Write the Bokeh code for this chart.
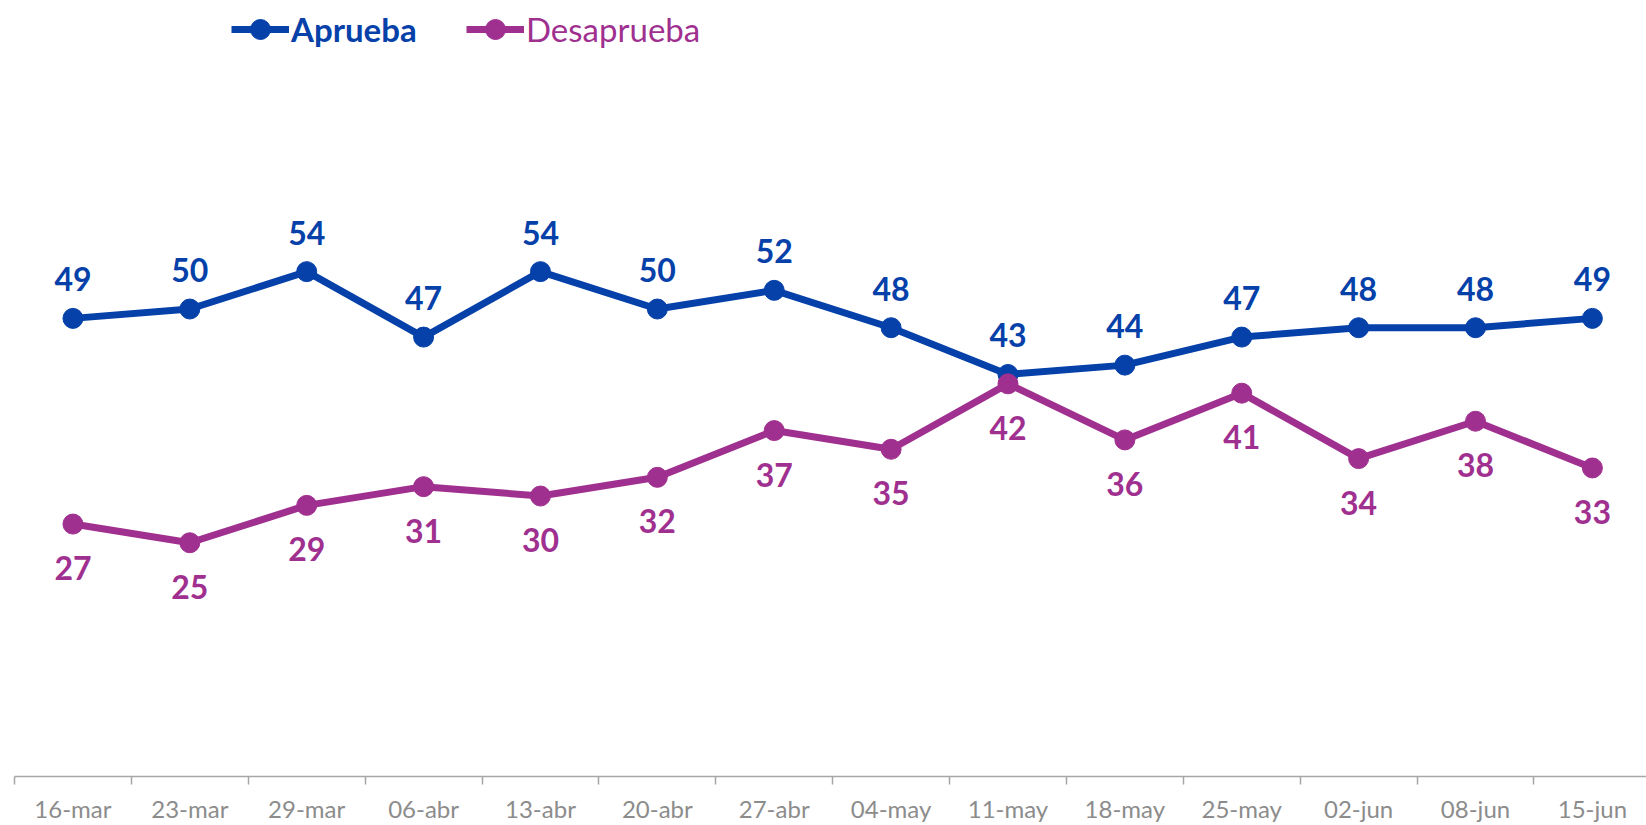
from bokeh.plotting import figure
from bokeh.models import ColumnDataSource, FixedTicker, Legend, LegendItem, Range1d
from bokeh.core.properties import value
from bokeh.embed import file_html
from bokeh.resources import INLINE

categories = ["16-mar", "23-mar", "29-mar", "06-abr", "13-abr", "20-abr", "27-abr",
              "04-may", "11-may", "18-may", "25-may", "02-jun", "08-jun", "15-jun"]
aprueba = [49, 50, 54, 47, 54, 50, 52, 48, 43, 44, 47, 48, 48, 49]
desaprueba = [27, 25, 29, 31, 30, 32, 37, 35, 42, 36, 41, 34, 38, 33]

BLUE = "#0541A9"
PURPLE = "#A0308F"
FONT = "Lato"

xs = list(range(len(categories)))
src = ColumnDataSource(dict(
    x=xs, a=aprueba, d=desaprueba,
    at=[str(v) for v in aprueba], dt=[str(v) for v in desaprueba],
))

p = figure(width=1646, height=825, output_backend="svg", toolbar_location=None,
           x_range=Range1d(-0.5, 13.463), y_range=Range1d(0, 83.0),
           min_border_left=14, min_border_right=0, min_border_top=0, min_border_bottom=0)
p.outline_line_color = None
p.grid.visible = False
p.yaxis.visible = False

la = p.line("x", "a", source=src, line_color=BLUE, line_width=7)
sa = p.scatter("x", "a", source=src, size=20, fill_color=BLUE, line_color=BLUE)
ld = p.line("x", "d", source=src, line_color=PURPLE, line_width=7)
sd = p.scatter("x", "d", source=src, size=20, fill_color=PURPLE, line_color=PURPLE)

p.text("x", "a", text="at", source=src, text_color=BLUE, text_font=value(FONT),
       text_font_style="bold", text_font_size="32px", text_align="center",
       text_baseline="middle", y_offset=-39)
p.text("x", "d", text="dt", source=src, text_color=PURPLE, text_font=value(FONT),
       text_font_style="bold", text_font_size="32px", text_align="center",
       text_baseline="middle", y_offset=44)

ax = p.xaxis[0]
ax.ticker = FixedTicker(ticks=xs, minor_ticks=[i - 0.5 for i in range(len(categories) + 1)])
ax.major_label_overrides = {i: c for i, c in enumerate(categories)}
ax.major_tick_line_color = None
ax.major_tick_out = 0
ax.major_tick_in = 0
ax.minor_tick_line_color = "#A6A6A6"
ax.minor_tick_line_width = 1.5
ax.minor_tick_out = 8
ax.minor_tick_in = 0
ax.axis_line_color = "#A6A6A6"
ax.axis_line_width = 1.5
ax.major_label_text_font = FONT
ax.major_label_text_font_size = "24px"
ax.major_label_text_color = "#8C8C8C"
ax.major_label_standoff = 9

leg1 = Legend(items=[LegendItem(label="Aprueba", renderers=[la, sa])],
              location=(217, 722), glyph_width=58, glyph_height=50,
              label_standoff=2, padding=0, margin=0, border_line_color=None,
              background_fill_alpha=0, label_text_font=FONT,
              label_text_font_size="33px", label_text_font_style="bold",
              label_text_color=BLUE)
leg2 = Legend(items=[LegendItem(label="Desaprueba", renderers=[ld, sd])],
              location=(452, 722), glyph_width=58, glyph_height=50,
              label_standoff=2, padding=0, margin=0, border_line_color=None,
              background_fill_alpha=0, label_text_font=FONT,
              label_text_font_size="33px", label_text_color=PURPLE)
p.add_layout(leg1, "center")
p.add_layout(leg2, "center")

open("out.html", "w").write(file_html(p, INLINE))
